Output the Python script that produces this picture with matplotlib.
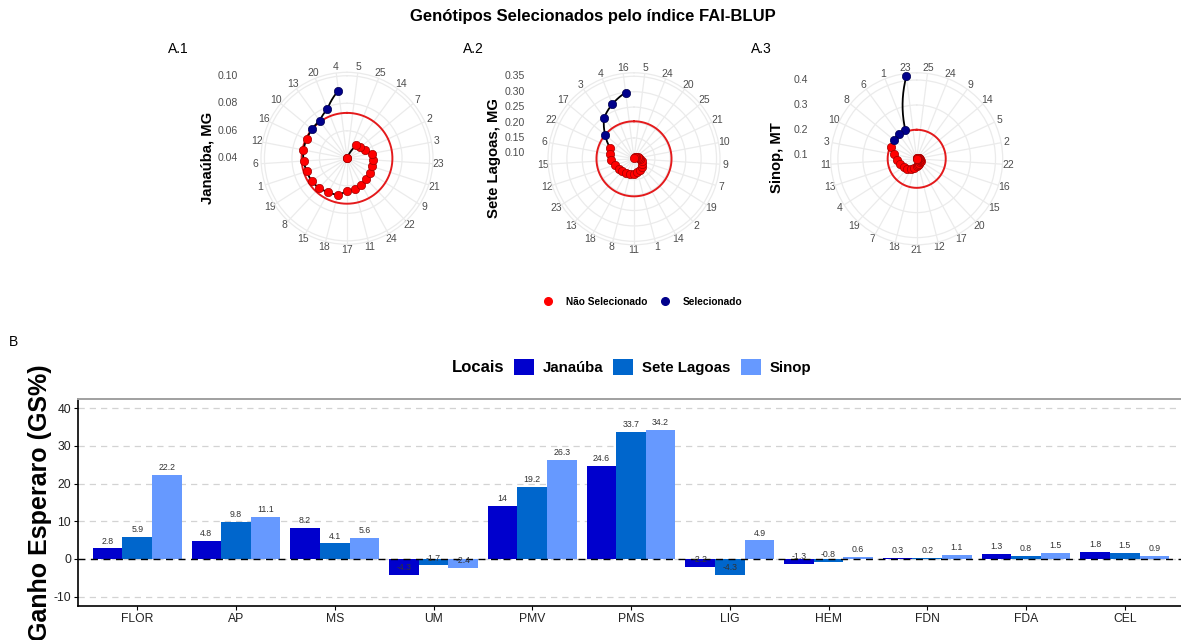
import numpy as np
import matplotlib
matplotlib.use('Agg')
import matplotlib.pyplot as plt
from matplotlib.patches import Patch
from matplotlib.lines import Line2D

plt.rcParams['font.family'] = ['Liberation Sans', 'DejaVu Sans']
plt.rcParams['axes.unicode_minus'] = False

W, H = 1181, 640
fig = plt.figure(figsize=(W / 100, H / 100), dpi=100)

# ---------------- data: FAI-BLUP (genotypes ranked, best first) ----------------
jan_gen = ['4', '20', '13', '10', '16', '12', '6', '1', '19', '8', '15', '18', '17',
           '11', '24', '22', '9', '21', '23', '3', '2', '7', '14', '25', '5']
jan_val = [0.0896, 0.0785, 0.0738, 0.0730, 0.0724, 0.0722, 0.0716, 0.0707, 0.0705,
           0.0696, 0.0681, 0.0675, 0.0635, 0.0631, 0.0618, 0.0606, 0.0595, 0.0591,
           0.0587, 0.0582, 0.0546, 0.0527, 0.0517, 0.0403, 0.0400]
jan_sel = ['4', '20', '13', '10']
jan_cut = 0.0730

sl_gen = ['16', '4', '3', '17', '22', '6', '15', '12', '23', '13', '18', '8', '11',
          '1', '14', '2', '19', '7', '9', '10', '21', '25', '20', '24', '5']
sl_val = [0.299, 0.273, 0.247, 0.203, 0.168, 0.163, 0.158, 0.146, 0.141, 0.138,
          0.136, 0.133, 0.130, 0.127, 0.122, 0.118, 0.113, 0.108, 0.103, 0.099,
          0.095, 0.091, 0.088, 0.085, 0.082]
sl_sel = ['16', '4', '3', '17']
sl_cut = 0.204

sin_gen = ['23', '1', '6', '8', '10', '3', '11', '13', '4', '19', '7', '18', '21',
           '12', '17', '20', '15', '16', '22', '2', '5', '14', '9', '24', '25']
sin_val = [0.417, 0.207, 0.205, 0.203, 0.197, 0.179, 0.165, 0.155, 0.147, 0.140,
           0.130, 0.122, 0.115, 0.111, 0.108, 0.105, 0.103, 0.100, 0.097, 0.095,
           0.093, 0.091, 0.089, 0.087, 0.085]
sin_sel = ['23', '1', '6', '8']
sin_cut = 0.201

# ---------------- data: expected gain ----------------
traits = ['FLOR', 'AP', 'MS', 'UM', 'PMV', 'PMS', 'LIG', 'HEM', 'FDN', 'FDA', 'CEL']
gs_jan = [2.8, 4.8, 8.2, -4.3, 14, 24.6, -2.2, -1.3, 0.3, 1.3, 1.8]
gs_sl = [5.9, 9.8, 4.1, -1.7, 19.2, 33.7, -4.3, -0.8, 0.2, 0.8, 1.5]
gs_sin = [22.2, 11.1, 5.6, -2.4, 26.3, 34.2, 4.9, 0.6, 1.1, 1.5, 0.9]
locais = ['Janaúba', 'Sete Lagoas', 'Sinop']
loc_colors = ['#0000CD', '#0066CC', '#6699FF']

GRAY = '#4D4D4D'


def polar_panel(cx, cy, gens, vals, sel, cut, rmin, rmax, rticks, rlabels, ylabel, tag, tagx):
    R = 86
    ax = fig.add_axes([(cx - R) / W, 1 - (cy + R) / H, 2 * R / W, 2 * R / H],
                      projection='polar')
    ax.set_theta_zero_location('N')
    ax.set_theta_direction(-1)
    n = len(gens)
    theta = 2 * np.pi - (np.arange(n) + 0.5) * 2 * np.pi / n
    vals = np.asarray(vals)
    ax.set_ylim(rmin, rmax)
    ax.set_xticks(theta)
    ax.set_xticklabels(gens, fontsize=7.5, color=GRAY)
    ax.set_yticks(rticks)
    ax.set_yticklabels([])
    ax.tick_params(axis='x', pad=-3, length=0)
    ax.grid(color='#EBEBEB', lw=0.9)
    ax.spines['polar'].set_color('#EBEBEB')
    ax.spines['polar'].set_linewidth(0.9)
    tf = np.linspace(0, 2 * np.pi, 361)
    ax.plot(tf, np.full_like(tf, cut), color='#E41A1C', lw=1.4, zorder=2)
    ln, = ax.plot(theta, vals, color='black', lw=1.3, zorder=3)
    ln.get_path()._interpolation_steps = 30  # follow polar coordinates between points
    is_sel = np.array([g in sel for g in gens])
    ax.scatter(theta[~is_sel], vals[~is_sel], s=36, c='#FF0000', edgecolors='#A00000',
               linewidths=0.5, zorder=4, clip_on=False)
    ax.scatter(theta[is_sel], vals[is_sel], s=36, c='#00008B', edgecolors='#000050',
               linewidths=0.5, zorder=4, clip_on=False)
    # radial axis labels drawn at the left, outside the circle
    for v, lab in zip(rticks, rlabels):
        _, yd = ax.transData.transform((0, v))
        fig.text((cx - 109) / W, yd / H, lab, ha='right', va='center', fontsize=7.6, color=GRAY)
    fig.text((cx - 140) / W, 1 - 158 / H, ylabel, rotation=90, ha='center', va='center',
             fontsize=10.7, fontweight='bold')
    fig.text(tagx / W, 1 - 49 / H, tag, ha='left', va='center', fontsize=10)
    return ax


polar_panel(347, 158.3, jan_gen, jan_val, jan_sel, jan_cut, 0.04, 0.1025,
            [0.04, 0.06, 0.08, 0.10], ['0.04', '0.06', '0.08', '0.10'], 'Janaúba, MG', 'A.1', 168)
polar_panel(634, 158.8, sl_gen, sl_val, sl_sel, sl_cut, 0.0822, 0.3613,
            [0.10, 0.15, 0.20, 0.25, 0.30, 0.35], ['0.10', '0.15', '0.20', '0.25', '0.30', '0.35'],
            'Sete Lagoas, MG', 'A.2', 463)
polar_panel(916.7, 158.8, sin_gen, sin_val, sin_sel, sin_cut, 0.0848, 0.4288,
            [0.1, 0.2, 0.3, 0.4], ['0.1', '0.2', '0.3', '0.4'], 'Sinop, MT', 'A.3', 751)

fig.text(593 / W, 1 - 17 / H, 'Genótipos Selecionados pelo índice FAI-BLUP',
         ha='center', va='center', fontsize=12, fontweight='bold')

pol_handles = [Line2D([], [], marker='o', ls='', color='#FF0000', markersize=5.5),
               Line2D([], [], marker='o', ls='', color='#00008B', markersize=5.5)]
fig.legend(pol_handles, ['Não Selecionado', 'Selecionado'], ncol=2, loc='center',
           bbox_to_anchor=(642.5 / W, 1 - 302 / H), frameon=False,
           prop={'weight': 'bold', 'size': 7.3}, handlelength=1.0, handletextpad=1.3,
           columnspacing=1.2)

# ---------------- panel B ----------------
top, bot, left, right = 398.8, 606.0, 78.0, 1184.0
axb = fig.add_axes([left / W, 1 - bot / H, (right - left) / W, (bot - top) / H])
x = np.arange(len(traits))
for k, (vals, col) in enumerate(zip([gs_jan, gs_sl, gs_sin], loc_colors)):
    xs = x + (k - 1) * 0.3
    axb.bar(xs, vals, width=0.3, color=col, zorder=2)
    for xi, v in zip(xs, vals):
        axb.annotate(f'{v:g}', (xi, v), xytext=(0, 2.0), textcoords='offset points',
                     ha='center', va='bottom', fontsize=6.3, color='#333333', zorder=5)
axb.axhline(0, color='black', ls=(0, (5, 4)), lw=1.0, zorder=3)
axb.set_xlim(-0.6, len(traits) - 0.4)
axb.set_ylim(-12.5, 42.5)
axb.set_yticks([-10, 0, 10, 20, 30, 40])
axb.set_xticks(x)
axb.set_xticklabels(traits)
axb.tick_params(axis='both', labelsize=8.7, labelcolor='#222222', length=3, width=0.8, pad=2)
axb.yaxis.grid(True, ls=(0, (5, 4)), color='#D3D3D3', lw=0.9, zorder=0)
axb.set_axisbelow(True)
for s in ['left', 'bottom']:
    axb.spines[s].set_color('black')
    axb.spines[s].set_linewidth(1.2)
axb.spines['top'].set_color('#A0A0A0')
axb.spines['top'].set_linewidth(1.4)
axb.spines['right'].set_visible(False)

fig.text(40 / W, 1 - (top + bot) / 2 / H, 'Ganho Esperaro (GS%)', rotation=90,
         ha='center', va='center', fontsize=18, fontweight='bold')
fig.text(9 / W, 1 - 342 / H, 'B', ha='left', va='center', fontsize=10)

fig.text(504 / W, 1 - 367 / H, 'Locais', ha='right', va='center', fontsize=12, fontweight='bold')
bar_handles = [Patch(facecolor=c, edgecolor='none') for c in loc_colors]
fig.legend(bar_handles, locais, ncol=3, loc='center', bbox_to_anchor=(662.5 / W, 1 - 367 / H),
           frameon=False, prop={'weight': 'bold', 'size': 10.8}, handlelength=1.33,
           handleheight=1.33, handletextpad=0.6, columnspacing=0.67)

fig.savefig('out.png', dpi=100)
